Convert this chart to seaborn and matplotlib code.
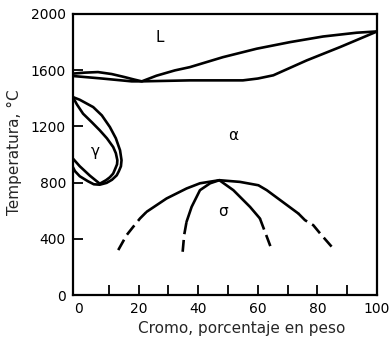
import numpy as np
import pandas as pd
import matplotlib
matplotlib.use("Agg")
import matplotlib.pyplot as plt
import seaborn as sns

# ---------------- data ----------------
# liquidus (upper) and solidus (lower), Cr % vs T (°C)
liquidus_cr = [-2, 2.0, 6.4, 11.0, 15.4, 18.5, 21.1, 26.0, 32.2, 37.2, 48.3, 59.6, 70.8, 81.9, 93.2, 100]
liquidus_t  = [1575, 1582, 1586, 1572, 1550, 1533, 1520, 1560, 1598, 1621, 1692, 1752, 1799, 1839, 1866, 1875]
solidus_cr  = [-2, 7.3, 17.7, 21.1, 37.2, 55.0, 60.0, 65.2, 76.4, 87.6, 100]
solidus_t   = [1558, 1541, 1520, 1520, 1527, 1527, 1540, 1563, 1669, 1764, 1875]

# gamma loop, outer and inner boundaries
gamma_out_cr = [-2, 0.3, 4.8, 7.7, 10.4, 12.4, 13.8, 14.3, 14.1, 13.4, 12.7, 11.1, 9.3, 7.0,
                5.0, 3.0, 0.3, -1.3, -2]
gamma_out_t  = [1408, 1389, 1337, 1278, 1195, 1115, 1030, 959, 916, 881, 852, 820, 798, 785,
                788, 810, 845, 881, 910]
gamma_in_cr  = [-2, -0.7, 1.4, 4.4, 7.0, 9.4, 11.5, 12.4, 12.9, 12.8, 12.4, 11.5, 10.4, 9.1,
                7.0, 3.7, 0.3, -2]
gamma_in_t   = [1408, 1357, 1290, 1228, 1172, 1115, 1053, 1009, 959, 930, 909, 864, 838, 817,
                792, 849, 916, 971]

# sigma: wide dome and narrow dome
sigma_wide_cr = [13.2, 16.0, 18.2, 20.5, 22.7, 29.4, 36.1, 40.6, 47.1, 54.0, 60.2, 63.0, 73.6, 75.8, 78.6, 80.9, 84.8]
sigma_wide_t  = [320, 426, 485, 545, 592, 687, 758, 795, 817, 805, 781, 746, 580, 533, 497, 438, 343]
sigma_narrow_cr = [34.8, 35.3, 36.1, 37.8, 40.6, 44.0, 47.1, 51.8, 57.4, 60.7, 62.4, 64.7]
sigma_narrow_t  = [308, 426, 521, 627, 746, 795, 817, 746, 627, 545, 450, 320]

phase_labels = ["L", "α", "γ", "σ"]
phase_cr = [27.2, 51.8, 5.4, 48.2]
phase_t  = [1832, 1136, 1018, 592]

x_ticks = [0, 20, 40, 60, 80, 100]
x_minor = [10, 30, 50, 70, 90]
y_ticks = [0, 400, 800, 1200, 1600, 2000]

# ---------------- plot ----------------
sns.set_style("white")
plt.rcParams["font.family"] = ["DejaVu Sans"]

fig = plt.figure(figsize=(3.92, 3.38), dpi=100)
ax = fig.add_axes([0.186, 0.127, 0.776, 0.832])

LW = 1.9
def line(xs, ys, dashed=False):
    df = pd.DataFrame({"cr": xs, "t": ys})
    kw = dict(dashes=(4.5, 2.2)) if dashed else {}
    sns.lineplot(data=df, x="cr", y="t", sort=False, estimator=None,
                 color="black", lw=LW, ax=ax, **kw)

line(liquidus_cr, liquidus_t)
line(solidus_cr, solidus_t)
line(gamma_out_cr, gamma_out_t)
line(gamma_in_cr, gamma_in_t)

def split_line(xs, ys, lo, hi):
    xs = np.asarray(xs); ys = np.asarray(ys)
    m_left = xs <= lo
    m_mid = (xs >= lo) & (xs <= hi)
    m_right = xs >= hi
    line(xs[m_left], ys[m_left], dashed=True)
    line(xs[m_mid], ys[m_mid])
    line(xs[m_right], ys[m_right], dashed=True)

split_line(sigma_wide_cr, sigma_wide_t, 22.7, 73.6)
split_line(sigma_narrow_cr, sigma_narrow_t, 36.1, 60.7)

for lab, cx, ty in zip(phase_labels, phase_cr, phase_t):
    ax.text(cx, ty, lab, ha="center", va="center", fontsize=11, color="black")

ax.set_xlim(-2, 100)
ax.set_ylim(0, 2000)
ax.set_xticks(x_ticks)
ax.set_xticks(x_minor, minor=True)
ax.set_yticks(y_ticks)
ax.tick_params(axis="both", which="both", direction="in", length=7, width=1.3,
               colors="black", labelsize=10, pad=5)
ax.tick_params(axis="x", which="both", top=False, bottom=True)
ax.tick_params(axis="y", which="both", left=True, right=False)
ax.xaxis.get_major_ticks()[0].tick1line.set_visible(False)

for s in ax.spines.values():
    s.set_color("black")
    s.set_linewidth(1.6)
    s.set_visible(True)

ax.set_xlabel("Cromo, porcentaje en peso", fontsize=11)
ax.set_ylabel("Temperatura, °C", fontsize=11)
ax.xaxis.set_label_coords(0.556, -0.093)
ax.yaxis.set_label_coords(-0.168, 0.509)

fig.savefig("out.png", dpi=100, facecolor="white")
